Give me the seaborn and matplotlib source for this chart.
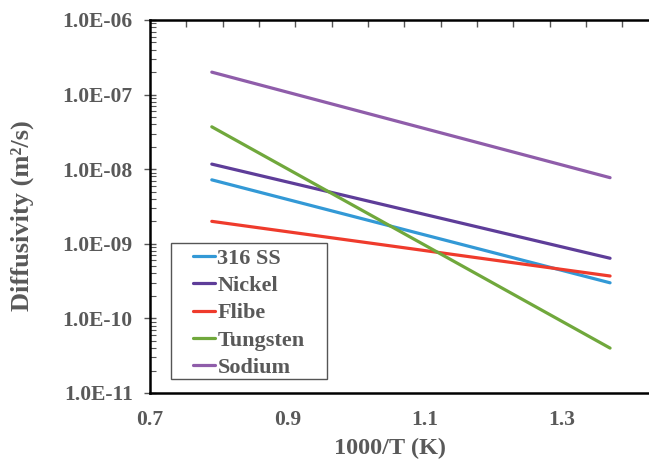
import numpy as np
import pandas as pd
import matplotlib
matplotlib.use("Agg")
import matplotlib.pyplot as plt
import matplotlib.ticker as mticker
from matplotlib.patches import Rectangle
import seaborn as sns

# data (1000/T vs diffusivity, end points of each line)
materials = ["316 SS", "Nickel", "Flibe", "Tungsten", "Sodium"]
inv_T = [0.79, 1.37]
d_316ss = [7.2e-9, 3.0e-10]
d_nickel = [1.17e-8, 6.4e-10]
d_flibe = [2.0e-9, 3.7e-10]
d_tungsten = [3.7e-8, 4.0e-11]
d_sodium = [2.0e-7, 7.7e-9]
y_ticks = [1e-11, 1e-10, 1e-9, 1e-8, 1e-7, 1e-6]
x_ticks = [0.7, 0.9, 1.1, 1.3]
colors = ["#3399d6", "#5e3d99", "#ef3b2c", "#70a83c", "#8f5daa"]

series = [d_316ss, d_nickel, d_flibe, d_tungsten, d_sodium]
rows = []
for name, vals in zip(materials, series):
    for x, y in zip(inv_T, vals):
        rows.append({"inv_T": x, "D": y, "Material": name})
df = pd.DataFrame(rows)

sns.set_style("white")
plt.rcParams["font.family"] = ["Liberation Serif", "DejaVu Serif"]
plt.rcParams["font.weight"] = "bold"
gray = "#595959"

fig = plt.figure(figsize=(6.49, 4.59), dpi=100)
ax = fig.add_axes([150 / 649, 1 - 393 / 459, 499 / 649, 373 / 459])

sns.lineplot(data=df, x="inv_T", y="D", hue="Material", hue_order=materials,
             palette=dict(zip(materials, colors)), linewidth=2.3, ax=ax)

ax.set_yscale("log")
ax.set_ylim(1e-11, 1e-6)
ax.set_xlim(0.7, 1.4267)
ax.set_xticks(x_ticks)
ax.xaxis.set_major_formatter(mticker.FormatStrFormatter("%.1f"))
ax.xaxis.set_minor_locator(mticker.FixedLocator(np.arange(0.7, 1.43, 0.0529)))
ax.xaxis.set_minor_formatter(mticker.NullFormatter())
ax.yaxis.set_major_locator(mticker.FixedLocator(y_ticks))
ax.yaxis.set_major_formatter(mticker.FuncFormatter(lambda v, p: f"{v:.1E}"))
ax.yaxis.set_minor_formatter(mticker.NullFormatter())

ax.tick_params(axis="x", which="major", length=0, pad=12, labelsize=15.5, labelcolor=gray)
ax.tick_params(axis="x", which="minor", bottom=False, top=True, direction="in",
               length=5, width=1, color="#555555")
ax.tick_params(axis="y", which="major", direction="inout", length=9, width=1,
               left=True, pad=8, labelsize=15.5, labelcolor=gray, color="#555555")
ax.tick_params(axis="y", which="minor", direction="in", length=4, width=0.8,
               left=True, color="#555555")

for s in ["left", "bottom", "top"]:
    ax.spines[s].set_color("black")
    ax.spines[s].set_linewidth(1.8)
ax.spines["right"].set_visible(False)

ax.set_xlabel("1000/T (K)", fontsize=17.5, color=gray, fontweight="bold")
ax.set_ylabel("Diffusivity (m²/s)", fontsize=19, color=gray, fontweight="bold")
ax.xaxis.set_label_coords(0.481, -0.119)
ax.yaxis.set_label_coords(-0.232, 0.475)

# legend frame drawn separately so the padding can be wider at the sides
ax.add_patch(Rectangle((0.0421, 0.0375), 0.3126, 0.3646, transform=ax.transAxes,
                       facecolor="white", edgecolor="#555555", linewidth=1.0, zorder=4))
leg = ax.legend(loc="upper left", bbox_to_anchor=(0.0862, 0.3876), borderaxespad=0,
                fontsize=16, frameon=False, handlelength=1.0,
                handletextpad=0.1, labelspacing=0.3, borderpad=0)
leg.set_zorder(5)
for t in leg.get_texts():
    t.set_color(gray)
    t.set_fontweight("bold")

fig.savefig("out.png", dpi=100)
